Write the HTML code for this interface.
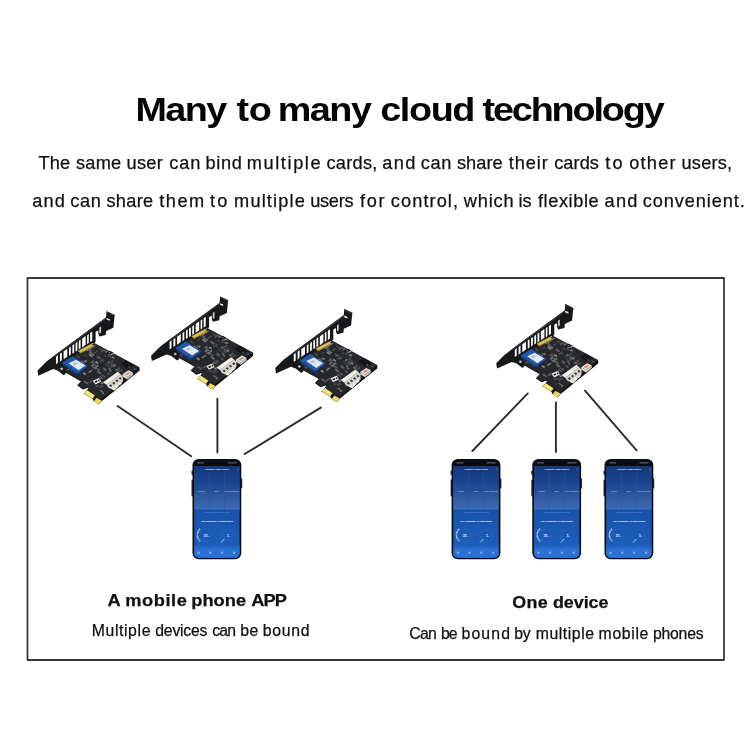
<!DOCTYPE html>
<html lang="en">
<head>
<meta charset="utf-8">
<title>Many to many cloud technology</title>
<style>
html,body{margin:0;padding:0;background:#fff;}
body{width:750px;height:750px;position:relative;overflow:hidden;font-family:"Liberation Sans",sans-serif;color:#111;}
svg{position:absolute;left:0;top:0;}
svg text{font-family:"Liberation Sans",sans-serif;}
.t{position:absolute;white-space:nowrap;line-height:1em;transform-origin:0 0;color:#101010;will-change:transform;-webkit-text-stroke:0.25px #101010;}
#t0{color:#040404;-webkit-text-stroke:0;}
#t0{left:138.30px;top:92.42px;font-size:34px;font-weight:700;letter-spacing:-1.9px;word-spacing:3.08px;transform:scaleX(1.11);}
#t1{left:39.10px;top:153.69px;font-size:18.2px;font-weight:400;letter-spacing:0.55px;word-spacing:0px;transform:scaleX(1);}
#t2{left:32.70px;top:191.89px;font-size:18.2px;font-weight:400;letter-spacing:0.55px;word-spacing:0px;transform:scaleX(1);}
#t3{left:107.80px;top:591.71px;font-size:17px;font-weight:700;letter-spacing:0px;word-spacing:0.3px;transform:scaleX(1.073);}
#t4{left:93.00px;top:622.93px;font-size:15.8px;font-weight:400;letter-spacing:0.3px;word-spacing:0px;transform:scaleX(1);}
#t5{left:513.20px;top:594.01px;font-size:17px;font-weight:700;letter-spacing:0px;word-spacing:0.3px;transform:scaleX(1.053);}
#t6{left:410.20px;top:625.73px;font-size:15.8px;font-weight:400;letter-spacing:0.3px;word-spacing:0px;transform:scaleX(1);}
</style>
</head>
<body>
<svg width="750" height="750" viewBox="0 0 750 750">
<defs>
<linearGradient id="scr" x1="0" y1="0" x2="0" y2="1">
<stop offset="0" stop-color="#14397d"/>
<stop offset="0.5" stop-color="#1853ad"/>
<stop offset="0.85" stop-color="#1c5dba"/>
<stop offset="1" stop-color="#2468c8"/>
</linearGradient>
<linearGradient id="pan" x1="0" y1="0" x2="0" y2="1">
<stop offset="0" stop-color="#14397d"/>
<stop offset="0.4" stop-color="#1b4690"/>
<stop offset="1" stop-color="#3f6cb3"/>
</linearGradient>
<linearGradient id="nav" x1="0" y1="0" x2="0" y2="1">
<stop offset="0" stop-color="#1c5dba"/>
<stop offset="0.35" stop-color="#2a70d2"/>
<stop offset="1" stop-color="#2b72d4"/>
</linearGradient>
<clipPath id="pcbclip"><polygon points="206,390 402,274 676,420 446,614 416,600 366,556 372,540 330,548 304,528 322,506 308,496 216,440"/></clipPath>
</defs>
<rect x="27.5" y="278" width="696.5" height="382" fill="none" stroke="#3a3a3a" stroke-width="1.8" stroke-linejoin="round"/>
<g stroke="#2c2c2c" stroke-width="1.9" stroke-linecap="round">
<line x1="117.6" y1="406" x2="191.2" y2="456.2"/>
<line x1="217.4" y1="398.6" x2="217.4" y2="452.4"/>
<line x1="320.8" y1="407.6" x2="244.6" y2="454"/>
<line x1="527.8" y1="393.4" x2="472.4" y2="451"/>
<line x1="555.9" y1="402.4" x2="555.9" y2="452"/>
<line x1="585" y1="390.6" x2="636.6" y2="450.4"/>
</g>
<g transform="translate(30 300) scale(0.16)">
<polygon points="200,392 402,272 686,424 684,442 448,633 432,653 400,633 390,617 335,584 357,564 368,547 330,559 295,533 320,508 306,501 212,448" fill="#0e0e0f"/>
<polygon points="200,388 402,268 684,420 446,622 416,606 360,560 372,540 330,552 299,530 322,506 308,496 212,442" fill="#27282b"/>
<polygon points="466,402 508,380 546,404 504,428" fill="#47484b"/>
<polygon points="474,402 508,385 538,404 504,422" fill="#303134"/>
<polygon points="470,332 500,317 524,332 494,348" fill="#0c0c0d"/>
<polygon points="566,398 604,378 652,408 614,430" fill="#151517"/>
<polygon points="500,340 528,326 534,332 506,346" fill="#b9bbbd" opacity="0.8"/>
<g clip-path="url(#pcbclip)">
<rect x="369" y="310" width="23" height="6" fill="#707275" opacity="0.75" transform="rotate(32 369 310)"/>
<rect x="255" y="427" width="11" height="9" fill="#6d6f72" opacity="0.64" transform="rotate(32 255 427)"/>
<rect x="413" y="533" width="12" height="7" fill="#707275" opacity="0.83" transform="rotate(32 413 533)"/>
<rect x="355" y="308" width="12" height="8" fill="#85878a" opacity="0.83" transform="rotate(32 355 308)"/>
<rect x="505" y="383" width="21" height="6" fill="#6d6f72" opacity="0.68" transform="rotate(-36 505 383)"/>
<rect x="523" y="401" width="16" height="10" fill="#9a9c9f" opacity="0.72" transform="rotate(32 523 401)"/>
<rect x="335" y="450" width="21" height="11" fill="#9a9c9f" opacity="0.84" transform="rotate(32 335 450)"/>
<rect x="261" y="429" width="13" height="8" fill="#9a9c9f" opacity="0.62" transform="rotate(32 261 429)"/>
<rect x="517" y="512" width="21" height="11" fill="#5a5c5f" opacity="0.88" transform="rotate(32 517 512)"/>
<rect x="486" y="451" width="19" height="11" fill="#5a5c5f" opacity="0.88" transform="rotate(32 486 451)"/>
<rect x="363" y="451" width="24" height="9" fill="#9a9c9f" opacity="0.74" transform="rotate(-36 363 451)"/>
<rect x="493" y="423" width="14" height="8" fill="#85878a" opacity="0.76" transform="rotate(32 493 423)"/>
<rect x="423" y="441" width="28" height="11" fill="#707275" opacity="0.88" transform="rotate(32 423 441)"/>
<rect x="394" y="336" width="12" height="7" fill="#85878a" opacity="0.79" transform="rotate(32 394 336)"/>
<rect x="483" y="347" width="10" height="9" fill="#5a5c5f" opacity="0.83" transform="rotate(-36 483 347)"/>
<rect x="452" y="464" width="24" height="6" fill="#707275" opacity="0.76" transform="rotate(32 452 464)"/>
<rect x="399" y="419" width="18" height="7" fill="#85878a" opacity="0.66" transform="rotate(32 399 419)"/>
<rect x="274" y="380" width="11" height="11" fill="#707275" opacity="0.66" transform="rotate(32 274 380)"/>
<rect x="338" y="375" width="17" height="7" fill="#9a9c9f" opacity="0.79" transform="rotate(32 338 375)"/>
<rect x="364" y="308" width="25" height="10" fill="#9a9c9f" opacity="0.66" transform="rotate(-36 364 308)"/>
<rect x="457" y="308" width="21" height="6" fill="#707275" opacity="0.99" transform="rotate(32 457 308)"/>
<rect x="342" y="381" width="13" height="11" fill="#707275" opacity="0.91" transform="rotate(-36 342 381)"/>
<rect x="372" y="334" width="26" height="12" fill="#85878a" opacity="0.93" transform="rotate(32 372 334)"/>
<rect x="453" y="377" width="11" height="6" fill="#5a5c5f" opacity="0.70" transform="rotate(32 453 377)"/>
<rect x="387" y="333" width="15" height="7" fill="#85878a" opacity="0.85" transform="rotate(32 387 333)"/>
<rect x="436" y="475" width="26" height="7" fill="#6d6f72" opacity="0.91" transform="rotate(32 436 475)"/>
<rect x="553" y="418" width="14" height="11" fill="#5a5c5f" opacity="0.92" transform="rotate(32 553 418)"/>
<rect x="381" y="441" width="13" height="6" fill="#6d6f72" opacity="0.90" transform="rotate(-36 381 441)"/>
<rect x="445" y="512" width="17" height="9" fill="#85878a" opacity="0.96" transform="rotate(32 445 512)"/>
<rect x="382" y="411" width="22" height="11" fill="#9a9c9f" opacity="0.65" transform="rotate(-36 382 411)"/>
<rect x="295" y="428" width="27" height="11" fill="#707275" opacity="0.91" transform="rotate(32 295 428)"/>
<rect x="458" y="419" width="26" height="11" fill="#6d6f72" opacity="0.68" transform="rotate(32 458 419)"/>
<rect x="491" y="326" width="16" height="9" fill="#9a9c9f" opacity="0.98" transform="rotate(-36 491 326)"/>
<rect x="282" y="406" width="11" height="7" fill="#6d6f72" opacity="0.87" transform="rotate(32 282 406)"/>
<rect x="401" y="421" width="30" height="11" fill="#85878a" opacity="0.77" transform="rotate(-36 401 421)"/>
<rect x="452" y="372" width="14" height="8" fill="#5a5c5f" opacity="0.74" transform="rotate(32 452 372)"/>
<rect x="427" y="492" width="18" height="9" fill="#5a5c5f" opacity="0.98" transform="rotate(-36 427 492)"/>
<rect x="461" y="430" width="20" height="8" fill="#5a5c5f" opacity="0.92" transform="rotate(32 461 430)"/>
<rect x="492" y="333" width="15" height="7" fill="#6d6f72" opacity="1.00" transform="rotate(32 492 333)"/>
<rect x="500" y="435" width="14" height="9" fill="#85878a" opacity="0.74" transform="rotate(32 500 435)"/>
<rect x="467" y="323" width="19" height="12" fill="#6d6f72" opacity="0.93" transform="rotate(-36 467 323)"/>
<rect x="416" y="423" width="27" height="8" fill="#707275" opacity="0.88" transform="rotate(32 416 423)"/>
<rect x="503" y="394" width="17" height="6" fill="#85878a" opacity="0.63" transform="rotate(32 503 394)"/>
<rect x="518" y="353" width="15" height="8" fill="#9a9c9f" opacity="0.66" transform="rotate(32 518 353)"/>
<rect x="422" y="347" width="29" height="12" fill="#707275" opacity="0.70" transform="rotate(32 422 347)"/>
<rect x="394" y="417" width="20" height="7" fill="#707275" opacity="0.64" transform="rotate(32 394 417)"/>
<rect x="482" y="390" width="16" height="10" fill="#6d6f72" opacity="0.98" transform="rotate(-36 482 390)"/>
<rect x="487" y="512" width="24" height="9" fill="#5a5c5f" opacity="0.85" transform="rotate(-36 487 512)"/>
<rect x="537" y="429" width="19" height="10" fill="#707275" opacity="0.96" transform="rotate(32 537 429)"/>
<rect x="554" y="448" width="26" height="6" fill="#707275" opacity="0.87" transform="rotate(-36 554 448)"/>
<rect x="385" y="295" width="27" height="9" fill="#6d6f72" opacity="0.81" transform="rotate(-36 385 295)"/>
<rect x="335" y="347" width="19" height="6" fill="#707275" opacity="0.64" transform="rotate(-36 335 347)"/>
<rect x="456" y="506" width="19" height="11" fill="#5a5c5f" opacity="0.89" transform="rotate(32 456 506)"/>
<rect x="650" y="423" width="18" height="9" fill="#5a5c5f" opacity="0.85" transform="rotate(32 650 423)"/>
<rect x="293" y="344" width="25" height="8" fill="#707275" opacity="0.60" transform="rotate(32 293 344)"/>
<rect x="519" y="488" width="24" height="8" fill="#707275" opacity="0.79" transform="rotate(32 519 488)"/>
<rect x="431" y="299" width="28" height="7" fill="#6d6f72" opacity="0.61" transform="rotate(32 431 299)"/>
<rect x="427" y="531" width="29" height="9" fill="#5a5c5f" opacity="0.68" transform="rotate(32 427 531)"/>
<rect x="455" y="574" width="13" height="11" fill="#707275" opacity="0.95" transform="rotate(32 455 574)"/>
<rect x="616" y="420" width="10" height="6" fill="#9a9c9f" opacity="0.78" transform="rotate(-36 616 420)"/>
<rect x="360" y="306" width="17" height="8" fill="#5a5c5f" opacity="0.73" transform="rotate(32 360 306)"/>
<rect x="375" y="391" width="29" height="7" fill="#6d6f72" opacity="0.72" transform="rotate(-36 375 391)"/>
<rect x="390" y="390" width="30" height="10" fill="#5a5c5f" opacity="0.90" transform="rotate(32 390 390)"/>
<rect x="366" y="515" width="26" height="9" fill="#6d6f72" opacity="0.76" transform="rotate(-36 366 515)"/>
<rect x="607" y="443" width="14" height="6" fill="#9a9c9f" opacity="0.85" transform="rotate(32 607 443)"/>
<rect x="439" y="561" width="21" height="7" fill="#9a9c9f" opacity="0.71" transform="rotate(32 439 561)"/>
<rect x="340" y="504" width="23" height="8" fill="#85878a" opacity="0.79" transform="rotate(32 340 504)"/>
<rect x="445" y="528" width="21" height="9" fill="#5a5c5f" opacity="0.77" transform="rotate(32 445 528)"/>
<rect x="466" y="341" width="13" height="9" fill="#5a5c5f" opacity="0.75" transform="rotate(32 466 341)"/>
<rect x="395" y="506" width="14" height="8" fill="#6d6f72" opacity="0.71" transform="rotate(32 395 506)"/>
<rect x="446" y="468" width="27" height="7" fill="#5a5c5f" opacity="0.75" transform="rotate(32 446 468)"/>
<rect x="508" y="403" width="16" height="11" fill="#6d6f72" opacity="0.61" transform="rotate(32 508 403)"/>
<rect x="434" y="454" width="10" height="8" fill="#707275" opacity="0.99" transform="rotate(32 434 454)"/>
<rect x="296" y="432" width="24" height="12" fill="#9a9c9f" opacity="0.82" transform="rotate(32 296 432)"/>
<rect x="508" y="360" width="13" height="8" fill="#9a9c9f" opacity="0.91" transform="rotate(-36 508 360)"/>
<rect x="273" y="359" width="29" height="7" fill="#5a5c5f" opacity="0.92" transform="rotate(32 273 359)"/>
<rect x="230" y="437" width="30" height="8" fill="#5a5c5f" opacity="0.94" transform="rotate(-36 230 437)"/>
<rect x="334" y="434" width="21" height="6" fill="#9a9c9f" opacity="0.86" transform="rotate(-36 334 434)"/>
<rect x="412" y="382" width="20" height="10" fill="#9a9c9f" opacity="0.87" transform="rotate(32 412 382)"/>
<rect x="548" y="427" width="14" height="12" fill="#5a5c5f" opacity="0.69" transform="rotate(32 548 427)"/>
<rect x="443" y="322" width="14" height="9" fill="#6d6f72" opacity="0.66" transform="rotate(-36 443 322)"/>
<rect x="399" y="330" width="29" height="7" fill="#6d6f72" opacity="0.62" transform="rotate(-36 399 330)"/>
<rect x="372" y="321" width="29" height="10" fill="#6d6f72" opacity="0.87" transform="rotate(32 372 321)"/>
<rect x="393" y="383" width="17" height="7" fill="#6d6f72" opacity="0.71" transform="rotate(32 393 383)"/>
<rect x="319" y="378" width="26" height="11" fill="#9a9c9f" opacity="0.62" transform="rotate(32 319 378)"/>
<rect x="434" y="383" width="28" height="7" fill="#5a5c5f" opacity="0.96" transform="rotate(-36 434 383)"/>
<rect x="243" y="396" width="26" height="11" fill="#6d6f72" opacity="0.61" transform="rotate(32 243 396)"/>
<rect x="341" y="507" width="28" height="8" fill="#5a5c5f" opacity="0.98" transform="rotate(32 341 507)"/>
<rect x="495" y="347" width="24" height="8" fill="#5a5c5f" opacity="0.60" transform="rotate(32 495 347)"/>
<rect x="338" y="402" width="20" height="12" fill="#85878a" opacity="0.92" transform="rotate(32 338 402)"/>
</g>
<polygon points="393,504 430,488 445,510 409,528" fill="#ecece9"/>
<polygon points="404,508 418,502 423,512 409,518" fill="#2a2a2c"/>
<polygon points="424,500 432,497 437,506 429,510" fill="#2a2a2c"/>
<polygon points="457,514 548,449 566,464 478,530" fill="#f1efea"/>
<polygon points="478,530 566,464 580,478 580,510 530,566 490,548" fill="#d9d6cf"/>
<polygon points="494,534 504,526 514,536 504,544" fill="#3c3c40"/>
<polygon points="514,519 524,511 534,521 524,529" fill="#3c3c40"/>
<polygon points="534,504 544,496 554,506 544,514" fill="#3c3c40"/>
<polygon points="554,489 564,481 574,491 564,499" fill="#3c3c40"/>
<polygon points="512,556 524,546 534,554 522,564" fill="#f4f2ee"/>
<polygon points="532,540 544,530 554,538 542,548" fill="#f4f2ee"/>
<polygon points="552,524 564,514 574,522 562,532" fill="#f4f2ee"/>
<polygon points="578,464 616,439 644,454 608,482" fill="#f1e6df"/>
<polygon points="592,464 616,448 630,456 606,472" fill="#cf987f"/>
<polygon points="608,482 644,454 645,468 609,497" fill="#c9c3bb"/>
<polygon points="578,464 608,482 609,497 579,478" fill="#e2dcd4"/>
<polygon points="335,583 358,564 406,597 390,617" fill="#ead959"/>
<polygon points="400,633 416,611 449,629 432,653" fill="#ead959"/>
<polygon points="345,580 360,568 400,596 390,608" fill="#f3e680"/>
<polygon points="47,440 100,387 115,375 155,345 475,110 479,70 529,94 521,173 476,194 473,219 434,228 427,213 427,190 410,198 410,262 400,271 392,270 205,398 224,446 222,462 210,470 175,442 145,432 52,473" fill="#17181a"/>
<polygon points="155,345 475,110 477,119 160,354" fill="#303235"/>
<polygon points="479,70 529,94 528,103 479,80" fill="#303235"/>
<polygon points="479,112 498,120 498,130 479,122" fill="#fff"/>
<polygon points="163,354.125 175,345.312 175,392.312 163,401.125" fill="#fff"/>
<polygon points="187,337.495 199,328.682 199,376.898 187,385.711" fill="#fff"/>
<polygon points="210,321.557 233,304.666 233,354.049 210,370.94" fill="#fff"/>
<polygon points="244,297.998 255,289.919 255,341.025 244,349.104" fill="#fff"/>
<polygon points="265,283.446 276,275.368 276,327.539 265,335.617" fill="#fff"/>
<polygon points="285,269.588 296,261.51 296,314.694 285,322.772" fill="#fff"/>
<polygon points="305,255.729 316,247.651 316,301.849 305,309.928" fill="#fff"/>
<polygon points="326,241.178 348,225.021 348,280.284 326,296.441" fill="#fff"/>
<polygon points="357,219.697 367,212.353 367,269.187 357,276.531" fill="#fff"/>
<polygon points="376,206.532 389,196.985 389,254.782 376,264.329" fill="#fff"/>
<polygon points="433,172 444,166 444,204 433,210" fill="#c9cacc"/>
<ellipse cx="198" cy="430" rx="9" ry="8" fill="#a4a6aa"/>
<ellipse cx="198" cy="430" rx="4" ry="3.5" fill="#e1e2e4"/>
<polygon points="298,318 384,272 402,288 316,335" fill="#a98e35"/>
<polygon points="306,318 382,278 392,286 316,327" fill="#d9c25a"/>
<polygon points="200,392 266,351 362,412 298,459" fill="#2458ab"/>
<polygon points="298,459 362,412 362,423 299,470" fill="#102e63"/>
<polygon points="200,392 298,459 299,470 201,402" fill="#173f86"/>
<polygon points="241,396 288,374 347,410 304,439" fill="#e4e9ef"/>
<polygon points="262,398 284,388 300,398 278,409" fill="#b7c3d6"/>
</g>
<g transform="translate(143.5 285.3) scale(0.16)">
<polygon points="200,392 402,272 686,424 684,442 448,633 432,653 400,633 390,617 335,584 357,564 368,547 330,559 295,533 320,508 306,501 212,448" fill="#0e0e0f"/>
<polygon points="200,388 402,268 684,420 446,622 416,606 360,560 372,540 330,552 299,530 322,506 308,496 212,442" fill="#27282b"/>
<polygon points="466,402 508,380 546,404 504,428" fill="#47484b"/>
<polygon points="474,402 508,385 538,404 504,422" fill="#303134"/>
<polygon points="470,332 500,317 524,332 494,348" fill="#0c0c0d"/>
<polygon points="566,398 604,378 652,408 614,430" fill="#151517"/>
<polygon points="500,340 528,326 534,332 506,346" fill="#b9bbbd" opacity="0.8"/>
<g clip-path="url(#pcbclip)">
<rect x="369" y="310" width="23" height="6" fill="#707275" opacity="0.75" transform="rotate(32 369 310)"/>
<rect x="255" y="427" width="11" height="9" fill="#6d6f72" opacity="0.64" transform="rotate(32 255 427)"/>
<rect x="413" y="533" width="12" height="7" fill="#707275" opacity="0.83" transform="rotate(32 413 533)"/>
<rect x="355" y="308" width="12" height="8" fill="#85878a" opacity="0.83" transform="rotate(32 355 308)"/>
<rect x="505" y="383" width="21" height="6" fill="#6d6f72" opacity="0.68" transform="rotate(-36 505 383)"/>
<rect x="523" y="401" width="16" height="10" fill="#9a9c9f" opacity="0.72" transform="rotate(32 523 401)"/>
<rect x="335" y="450" width="21" height="11" fill="#9a9c9f" opacity="0.84" transform="rotate(32 335 450)"/>
<rect x="261" y="429" width="13" height="8" fill="#9a9c9f" opacity="0.62" transform="rotate(32 261 429)"/>
<rect x="517" y="512" width="21" height="11" fill="#5a5c5f" opacity="0.88" transform="rotate(32 517 512)"/>
<rect x="486" y="451" width="19" height="11" fill="#5a5c5f" opacity="0.88" transform="rotate(32 486 451)"/>
<rect x="363" y="451" width="24" height="9" fill="#9a9c9f" opacity="0.74" transform="rotate(-36 363 451)"/>
<rect x="493" y="423" width="14" height="8" fill="#85878a" opacity="0.76" transform="rotate(32 493 423)"/>
<rect x="423" y="441" width="28" height="11" fill="#707275" opacity="0.88" transform="rotate(32 423 441)"/>
<rect x="394" y="336" width="12" height="7" fill="#85878a" opacity="0.79" transform="rotate(32 394 336)"/>
<rect x="483" y="347" width="10" height="9" fill="#5a5c5f" opacity="0.83" transform="rotate(-36 483 347)"/>
<rect x="452" y="464" width="24" height="6" fill="#707275" opacity="0.76" transform="rotate(32 452 464)"/>
<rect x="399" y="419" width="18" height="7" fill="#85878a" opacity="0.66" transform="rotate(32 399 419)"/>
<rect x="274" y="380" width="11" height="11" fill="#707275" opacity="0.66" transform="rotate(32 274 380)"/>
<rect x="338" y="375" width="17" height="7" fill="#9a9c9f" opacity="0.79" transform="rotate(32 338 375)"/>
<rect x="364" y="308" width="25" height="10" fill="#9a9c9f" opacity="0.66" transform="rotate(-36 364 308)"/>
<rect x="457" y="308" width="21" height="6" fill="#707275" opacity="0.99" transform="rotate(32 457 308)"/>
<rect x="342" y="381" width="13" height="11" fill="#707275" opacity="0.91" transform="rotate(-36 342 381)"/>
<rect x="372" y="334" width="26" height="12" fill="#85878a" opacity="0.93" transform="rotate(32 372 334)"/>
<rect x="453" y="377" width="11" height="6" fill="#5a5c5f" opacity="0.70" transform="rotate(32 453 377)"/>
<rect x="387" y="333" width="15" height="7" fill="#85878a" opacity="0.85" transform="rotate(32 387 333)"/>
<rect x="436" y="475" width="26" height="7" fill="#6d6f72" opacity="0.91" transform="rotate(32 436 475)"/>
<rect x="553" y="418" width="14" height="11" fill="#5a5c5f" opacity="0.92" transform="rotate(32 553 418)"/>
<rect x="381" y="441" width="13" height="6" fill="#6d6f72" opacity="0.90" transform="rotate(-36 381 441)"/>
<rect x="445" y="512" width="17" height="9" fill="#85878a" opacity="0.96" transform="rotate(32 445 512)"/>
<rect x="382" y="411" width="22" height="11" fill="#9a9c9f" opacity="0.65" transform="rotate(-36 382 411)"/>
<rect x="295" y="428" width="27" height="11" fill="#707275" opacity="0.91" transform="rotate(32 295 428)"/>
<rect x="458" y="419" width="26" height="11" fill="#6d6f72" opacity="0.68" transform="rotate(32 458 419)"/>
<rect x="491" y="326" width="16" height="9" fill="#9a9c9f" opacity="0.98" transform="rotate(-36 491 326)"/>
<rect x="282" y="406" width="11" height="7" fill="#6d6f72" opacity="0.87" transform="rotate(32 282 406)"/>
<rect x="401" y="421" width="30" height="11" fill="#85878a" opacity="0.77" transform="rotate(-36 401 421)"/>
<rect x="452" y="372" width="14" height="8" fill="#5a5c5f" opacity="0.74" transform="rotate(32 452 372)"/>
<rect x="427" y="492" width="18" height="9" fill="#5a5c5f" opacity="0.98" transform="rotate(-36 427 492)"/>
<rect x="461" y="430" width="20" height="8" fill="#5a5c5f" opacity="0.92" transform="rotate(32 461 430)"/>
<rect x="492" y="333" width="15" height="7" fill="#6d6f72" opacity="1.00" transform="rotate(32 492 333)"/>
<rect x="500" y="435" width="14" height="9" fill="#85878a" opacity="0.74" transform="rotate(32 500 435)"/>
<rect x="467" y="323" width="19" height="12" fill="#6d6f72" opacity="0.93" transform="rotate(-36 467 323)"/>
<rect x="416" y="423" width="27" height="8" fill="#707275" opacity="0.88" transform="rotate(32 416 423)"/>
<rect x="503" y="394" width="17" height="6" fill="#85878a" opacity="0.63" transform="rotate(32 503 394)"/>
<rect x="518" y="353" width="15" height="8" fill="#9a9c9f" opacity="0.66" transform="rotate(32 518 353)"/>
<rect x="422" y="347" width="29" height="12" fill="#707275" opacity="0.70" transform="rotate(32 422 347)"/>
<rect x="394" y="417" width="20" height="7" fill="#707275" opacity="0.64" transform="rotate(32 394 417)"/>
<rect x="482" y="390" width="16" height="10" fill="#6d6f72" opacity="0.98" transform="rotate(-36 482 390)"/>
<rect x="487" y="512" width="24" height="9" fill="#5a5c5f" opacity="0.85" transform="rotate(-36 487 512)"/>
<rect x="537" y="429" width="19" height="10" fill="#707275" opacity="0.96" transform="rotate(32 537 429)"/>
<rect x="554" y="448" width="26" height="6" fill="#707275" opacity="0.87" transform="rotate(-36 554 448)"/>
<rect x="385" y="295" width="27" height="9" fill="#6d6f72" opacity="0.81" transform="rotate(-36 385 295)"/>
<rect x="335" y="347" width="19" height="6" fill="#707275" opacity="0.64" transform="rotate(-36 335 347)"/>
<rect x="456" y="506" width="19" height="11" fill="#5a5c5f" opacity="0.89" transform="rotate(32 456 506)"/>
<rect x="650" y="423" width="18" height="9" fill="#5a5c5f" opacity="0.85" transform="rotate(32 650 423)"/>
<rect x="293" y="344" width="25" height="8" fill="#707275" opacity="0.60" transform="rotate(32 293 344)"/>
<rect x="519" y="488" width="24" height="8" fill="#707275" opacity="0.79" transform="rotate(32 519 488)"/>
<rect x="431" y="299" width="28" height="7" fill="#6d6f72" opacity="0.61" transform="rotate(32 431 299)"/>
<rect x="427" y="531" width="29" height="9" fill="#5a5c5f" opacity="0.68" transform="rotate(32 427 531)"/>
<rect x="455" y="574" width="13" height="11" fill="#707275" opacity="0.95" transform="rotate(32 455 574)"/>
<rect x="616" y="420" width="10" height="6" fill="#9a9c9f" opacity="0.78" transform="rotate(-36 616 420)"/>
<rect x="360" y="306" width="17" height="8" fill="#5a5c5f" opacity="0.73" transform="rotate(32 360 306)"/>
<rect x="375" y="391" width="29" height="7" fill="#6d6f72" opacity="0.72" transform="rotate(-36 375 391)"/>
<rect x="390" y="390" width="30" height="10" fill="#5a5c5f" opacity="0.90" transform="rotate(32 390 390)"/>
<rect x="366" y="515" width="26" height="9" fill="#6d6f72" opacity="0.76" transform="rotate(-36 366 515)"/>
<rect x="607" y="443" width="14" height="6" fill="#9a9c9f" opacity="0.85" transform="rotate(32 607 443)"/>
<rect x="439" y="561" width="21" height="7" fill="#9a9c9f" opacity="0.71" transform="rotate(32 439 561)"/>
<rect x="340" y="504" width="23" height="8" fill="#85878a" opacity="0.79" transform="rotate(32 340 504)"/>
<rect x="445" y="528" width="21" height="9" fill="#5a5c5f" opacity="0.77" transform="rotate(32 445 528)"/>
<rect x="466" y="341" width="13" height="9" fill="#5a5c5f" opacity="0.75" transform="rotate(32 466 341)"/>
<rect x="395" y="506" width="14" height="8" fill="#6d6f72" opacity="0.71" transform="rotate(32 395 506)"/>
<rect x="446" y="468" width="27" height="7" fill="#5a5c5f" opacity="0.75" transform="rotate(32 446 468)"/>
<rect x="508" y="403" width="16" height="11" fill="#6d6f72" opacity="0.61" transform="rotate(32 508 403)"/>
<rect x="434" y="454" width="10" height="8" fill="#707275" opacity="0.99" transform="rotate(32 434 454)"/>
<rect x="296" y="432" width="24" height="12" fill="#9a9c9f" opacity="0.82" transform="rotate(32 296 432)"/>
<rect x="508" y="360" width="13" height="8" fill="#9a9c9f" opacity="0.91" transform="rotate(-36 508 360)"/>
<rect x="273" y="359" width="29" height="7" fill="#5a5c5f" opacity="0.92" transform="rotate(32 273 359)"/>
<rect x="230" y="437" width="30" height="8" fill="#5a5c5f" opacity="0.94" transform="rotate(-36 230 437)"/>
<rect x="334" y="434" width="21" height="6" fill="#9a9c9f" opacity="0.86" transform="rotate(-36 334 434)"/>
<rect x="412" y="382" width="20" height="10" fill="#9a9c9f" opacity="0.87" transform="rotate(32 412 382)"/>
<rect x="548" y="427" width="14" height="12" fill="#5a5c5f" opacity="0.69" transform="rotate(32 548 427)"/>
<rect x="443" y="322" width="14" height="9" fill="#6d6f72" opacity="0.66" transform="rotate(-36 443 322)"/>
<rect x="399" y="330" width="29" height="7" fill="#6d6f72" opacity="0.62" transform="rotate(-36 399 330)"/>
<rect x="372" y="321" width="29" height="10" fill="#6d6f72" opacity="0.87" transform="rotate(32 372 321)"/>
<rect x="393" y="383" width="17" height="7" fill="#6d6f72" opacity="0.71" transform="rotate(32 393 383)"/>
<rect x="319" y="378" width="26" height="11" fill="#9a9c9f" opacity="0.62" transform="rotate(32 319 378)"/>
<rect x="434" y="383" width="28" height="7" fill="#5a5c5f" opacity="0.96" transform="rotate(-36 434 383)"/>
<rect x="243" y="396" width="26" height="11" fill="#6d6f72" opacity="0.61" transform="rotate(32 243 396)"/>
<rect x="341" y="507" width="28" height="8" fill="#5a5c5f" opacity="0.98" transform="rotate(32 341 507)"/>
<rect x="495" y="347" width="24" height="8" fill="#5a5c5f" opacity="0.60" transform="rotate(32 495 347)"/>
<rect x="338" y="402" width="20" height="12" fill="#85878a" opacity="0.92" transform="rotate(32 338 402)"/>
</g>
<polygon points="393,504 430,488 445,510 409,528" fill="#ecece9"/>
<polygon points="404,508 418,502 423,512 409,518" fill="#2a2a2c"/>
<polygon points="424,500 432,497 437,506 429,510" fill="#2a2a2c"/>
<polygon points="457,514 548,449 566,464 478,530" fill="#f1efea"/>
<polygon points="478,530 566,464 580,478 580,510 530,566 490,548" fill="#d9d6cf"/>
<polygon points="494,534 504,526 514,536 504,544" fill="#3c3c40"/>
<polygon points="514,519 524,511 534,521 524,529" fill="#3c3c40"/>
<polygon points="534,504 544,496 554,506 544,514" fill="#3c3c40"/>
<polygon points="554,489 564,481 574,491 564,499" fill="#3c3c40"/>
<polygon points="512,556 524,546 534,554 522,564" fill="#f4f2ee"/>
<polygon points="532,540 544,530 554,538 542,548" fill="#f4f2ee"/>
<polygon points="552,524 564,514 574,522 562,532" fill="#f4f2ee"/>
<polygon points="578,464 616,439 644,454 608,482" fill="#f1e6df"/>
<polygon points="592,464 616,448 630,456 606,472" fill="#cf987f"/>
<polygon points="608,482 644,454 645,468 609,497" fill="#c9c3bb"/>
<polygon points="578,464 608,482 609,497 579,478" fill="#e2dcd4"/>
<polygon points="335,583 358,564 406,597 390,617" fill="#ead959"/>
<polygon points="400,633 416,611 449,629 432,653" fill="#ead959"/>
<polygon points="345,580 360,568 400,596 390,608" fill="#f3e680"/>
<polygon points="47,440 100,387 115,375 155,345 475,110 479,70 529,94 521,173 476,194 473,219 434,228 427,213 427,190 410,198 410,262 400,271 392,270 205,398 224,446 222,462 210,470 175,442 145,432 52,473" fill="#17181a"/>
<polygon points="155,345 475,110 477,119 160,354" fill="#303235"/>
<polygon points="479,70 529,94 528,103 479,80" fill="#303235"/>
<polygon points="479,112 498,120 498,130 479,122" fill="#fff"/>
<polygon points="163,354.125 175,345.312 175,392.312 163,401.125" fill="#fff"/>
<polygon points="187,337.495 199,328.682 199,376.898 187,385.711" fill="#fff"/>
<polygon points="210,321.557 233,304.666 233,354.049 210,370.94" fill="#fff"/>
<polygon points="244,297.998 255,289.919 255,341.025 244,349.104" fill="#fff"/>
<polygon points="265,283.446 276,275.368 276,327.539 265,335.617" fill="#fff"/>
<polygon points="285,269.588 296,261.51 296,314.694 285,322.772" fill="#fff"/>
<polygon points="305,255.729 316,247.651 316,301.849 305,309.928" fill="#fff"/>
<polygon points="326,241.178 348,225.021 348,280.284 326,296.441" fill="#fff"/>
<polygon points="357,219.697 367,212.353 367,269.187 357,276.531" fill="#fff"/>
<polygon points="376,206.532 389,196.985 389,254.782 376,264.329" fill="#fff"/>
<polygon points="433,172 444,166 444,204 433,210" fill="#c9cacc"/>
<ellipse cx="198" cy="430" rx="9" ry="8" fill="#a4a6aa"/>
<ellipse cx="198" cy="430" rx="4" ry="3.5" fill="#e1e2e4"/>
<polygon points="298,318 384,272 402,288 316,335" fill="#a98e35"/>
<polygon points="306,318 382,278 392,286 316,327" fill="#d9c25a"/>
<polygon points="200,392 266,351 362,412 298,459" fill="#2458ab"/>
<polygon points="298,459 362,412 362,423 299,470" fill="#102e63"/>
<polygon points="200,392 298,459 299,470 201,402" fill="#173f86"/>
<polygon points="241,396 288,374 347,410 304,439" fill="#e4e9ef"/>
<polygon points="262,398 284,388 300,398 278,409" fill="#b7c3d6"/>
</g>
<g transform="translate(267.7 297.7) scale(0.16)">
<polygon points="200,392 402,272 686,424 684,442 448,633 432,653 400,633 390,617 335,584 357,564 368,547 330,559 295,533 320,508 306,501 212,448" fill="#0e0e0f"/>
<polygon points="200,388 402,268 684,420 446,622 416,606 360,560 372,540 330,552 299,530 322,506 308,496 212,442" fill="#27282b"/>
<polygon points="466,402 508,380 546,404 504,428" fill="#47484b"/>
<polygon points="474,402 508,385 538,404 504,422" fill="#303134"/>
<polygon points="470,332 500,317 524,332 494,348" fill="#0c0c0d"/>
<polygon points="566,398 604,378 652,408 614,430" fill="#151517"/>
<polygon points="500,340 528,326 534,332 506,346" fill="#b9bbbd" opacity="0.8"/>
<g clip-path="url(#pcbclip)">
<rect x="369" y="310" width="23" height="6" fill="#707275" opacity="0.75" transform="rotate(32 369 310)"/>
<rect x="255" y="427" width="11" height="9" fill="#6d6f72" opacity="0.64" transform="rotate(32 255 427)"/>
<rect x="413" y="533" width="12" height="7" fill="#707275" opacity="0.83" transform="rotate(32 413 533)"/>
<rect x="355" y="308" width="12" height="8" fill="#85878a" opacity="0.83" transform="rotate(32 355 308)"/>
<rect x="505" y="383" width="21" height="6" fill="#6d6f72" opacity="0.68" transform="rotate(-36 505 383)"/>
<rect x="523" y="401" width="16" height="10" fill="#9a9c9f" opacity="0.72" transform="rotate(32 523 401)"/>
<rect x="335" y="450" width="21" height="11" fill="#9a9c9f" opacity="0.84" transform="rotate(32 335 450)"/>
<rect x="261" y="429" width="13" height="8" fill="#9a9c9f" opacity="0.62" transform="rotate(32 261 429)"/>
<rect x="517" y="512" width="21" height="11" fill="#5a5c5f" opacity="0.88" transform="rotate(32 517 512)"/>
<rect x="486" y="451" width="19" height="11" fill="#5a5c5f" opacity="0.88" transform="rotate(32 486 451)"/>
<rect x="363" y="451" width="24" height="9" fill="#9a9c9f" opacity="0.74" transform="rotate(-36 363 451)"/>
<rect x="493" y="423" width="14" height="8" fill="#85878a" opacity="0.76" transform="rotate(32 493 423)"/>
<rect x="423" y="441" width="28" height="11" fill="#707275" opacity="0.88" transform="rotate(32 423 441)"/>
<rect x="394" y="336" width="12" height="7" fill="#85878a" opacity="0.79" transform="rotate(32 394 336)"/>
<rect x="483" y="347" width="10" height="9" fill="#5a5c5f" opacity="0.83" transform="rotate(-36 483 347)"/>
<rect x="452" y="464" width="24" height="6" fill="#707275" opacity="0.76" transform="rotate(32 452 464)"/>
<rect x="399" y="419" width="18" height="7" fill="#85878a" opacity="0.66" transform="rotate(32 399 419)"/>
<rect x="274" y="380" width="11" height="11" fill="#707275" opacity="0.66" transform="rotate(32 274 380)"/>
<rect x="338" y="375" width="17" height="7" fill="#9a9c9f" opacity="0.79" transform="rotate(32 338 375)"/>
<rect x="364" y="308" width="25" height="10" fill="#9a9c9f" opacity="0.66" transform="rotate(-36 364 308)"/>
<rect x="457" y="308" width="21" height="6" fill="#707275" opacity="0.99" transform="rotate(32 457 308)"/>
<rect x="342" y="381" width="13" height="11" fill="#707275" opacity="0.91" transform="rotate(-36 342 381)"/>
<rect x="372" y="334" width="26" height="12" fill="#85878a" opacity="0.93" transform="rotate(32 372 334)"/>
<rect x="453" y="377" width="11" height="6" fill="#5a5c5f" opacity="0.70" transform="rotate(32 453 377)"/>
<rect x="387" y="333" width="15" height="7" fill="#85878a" opacity="0.85" transform="rotate(32 387 333)"/>
<rect x="436" y="475" width="26" height="7" fill="#6d6f72" opacity="0.91" transform="rotate(32 436 475)"/>
<rect x="553" y="418" width="14" height="11" fill="#5a5c5f" opacity="0.92" transform="rotate(32 553 418)"/>
<rect x="381" y="441" width="13" height="6" fill="#6d6f72" opacity="0.90" transform="rotate(-36 381 441)"/>
<rect x="445" y="512" width="17" height="9" fill="#85878a" opacity="0.96" transform="rotate(32 445 512)"/>
<rect x="382" y="411" width="22" height="11" fill="#9a9c9f" opacity="0.65" transform="rotate(-36 382 411)"/>
<rect x="295" y="428" width="27" height="11" fill="#707275" opacity="0.91" transform="rotate(32 295 428)"/>
<rect x="458" y="419" width="26" height="11" fill="#6d6f72" opacity="0.68" transform="rotate(32 458 419)"/>
<rect x="491" y="326" width="16" height="9" fill="#9a9c9f" opacity="0.98" transform="rotate(-36 491 326)"/>
<rect x="282" y="406" width="11" height="7" fill="#6d6f72" opacity="0.87" transform="rotate(32 282 406)"/>
<rect x="401" y="421" width="30" height="11" fill="#85878a" opacity="0.77" transform="rotate(-36 401 421)"/>
<rect x="452" y="372" width="14" height="8" fill="#5a5c5f" opacity="0.74" transform="rotate(32 452 372)"/>
<rect x="427" y="492" width="18" height="9" fill="#5a5c5f" opacity="0.98" transform="rotate(-36 427 492)"/>
<rect x="461" y="430" width="20" height="8" fill="#5a5c5f" opacity="0.92" transform="rotate(32 461 430)"/>
<rect x="492" y="333" width="15" height="7" fill="#6d6f72" opacity="1.00" transform="rotate(32 492 333)"/>
<rect x="500" y="435" width="14" height="9" fill="#85878a" opacity="0.74" transform="rotate(32 500 435)"/>
<rect x="467" y="323" width="19" height="12" fill="#6d6f72" opacity="0.93" transform="rotate(-36 467 323)"/>
<rect x="416" y="423" width="27" height="8" fill="#707275" opacity="0.88" transform="rotate(32 416 423)"/>
<rect x="503" y="394" width="17" height="6" fill="#85878a" opacity="0.63" transform="rotate(32 503 394)"/>
<rect x="518" y="353" width="15" height="8" fill="#9a9c9f" opacity="0.66" transform="rotate(32 518 353)"/>
<rect x="422" y="347" width="29" height="12" fill="#707275" opacity="0.70" transform="rotate(32 422 347)"/>
<rect x="394" y="417" width="20" height="7" fill="#707275" opacity="0.64" transform="rotate(32 394 417)"/>
<rect x="482" y="390" width="16" height="10" fill="#6d6f72" opacity="0.98" transform="rotate(-36 482 390)"/>
<rect x="487" y="512" width="24" height="9" fill="#5a5c5f" opacity="0.85" transform="rotate(-36 487 512)"/>
<rect x="537" y="429" width="19" height="10" fill="#707275" opacity="0.96" transform="rotate(32 537 429)"/>
<rect x="554" y="448" width="26" height="6" fill="#707275" opacity="0.87" transform="rotate(-36 554 448)"/>
<rect x="385" y="295" width="27" height="9" fill="#6d6f72" opacity="0.81" transform="rotate(-36 385 295)"/>
<rect x="335" y="347" width="19" height="6" fill="#707275" opacity="0.64" transform="rotate(-36 335 347)"/>
<rect x="456" y="506" width="19" height="11" fill="#5a5c5f" opacity="0.89" transform="rotate(32 456 506)"/>
<rect x="650" y="423" width="18" height="9" fill="#5a5c5f" opacity="0.85" transform="rotate(32 650 423)"/>
<rect x="293" y="344" width="25" height="8" fill="#707275" opacity="0.60" transform="rotate(32 293 344)"/>
<rect x="519" y="488" width="24" height="8" fill="#707275" opacity="0.79" transform="rotate(32 519 488)"/>
<rect x="431" y="299" width="28" height="7" fill="#6d6f72" opacity="0.61" transform="rotate(32 431 299)"/>
<rect x="427" y="531" width="29" height="9" fill="#5a5c5f" opacity="0.68" transform="rotate(32 427 531)"/>
<rect x="455" y="574" width="13" height="11" fill="#707275" opacity="0.95" transform="rotate(32 455 574)"/>
<rect x="616" y="420" width="10" height="6" fill="#9a9c9f" opacity="0.78" transform="rotate(-36 616 420)"/>
<rect x="360" y="306" width="17" height="8" fill="#5a5c5f" opacity="0.73" transform="rotate(32 360 306)"/>
<rect x="375" y="391" width="29" height="7" fill="#6d6f72" opacity="0.72" transform="rotate(-36 375 391)"/>
<rect x="390" y="390" width="30" height="10" fill="#5a5c5f" opacity="0.90" transform="rotate(32 390 390)"/>
<rect x="366" y="515" width="26" height="9" fill="#6d6f72" opacity="0.76" transform="rotate(-36 366 515)"/>
<rect x="607" y="443" width="14" height="6" fill="#9a9c9f" opacity="0.85" transform="rotate(32 607 443)"/>
<rect x="439" y="561" width="21" height="7" fill="#9a9c9f" opacity="0.71" transform="rotate(32 439 561)"/>
<rect x="340" y="504" width="23" height="8" fill="#85878a" opacity="0.79" transform="rotate(32 340 504)"/>
<rect x="445" y="528" width="21" height="9" fill="#5a5c5f" opacity="0.77" transform="rotate(32 445 528)"/>
<rect x="466" y="341" width="13" height="9" fill="#5a5c5f" opacity="0.75" transform="rotate(32 466 341)"/>
<rect x="395" y="506" width="14" height="8" fill="#6d6f72" opacity="0.71" transform="rotate(32 395 506)"/>
<rect x="446" y="468" width="27" height="7" fill="#5a5c5f" opacity="0.75" transform="rotate(32 446 468)"/>
<rect x="508" y="403" width="16" height="11" fill="#6d6f72" opacity="0.61" transform="rotate(32 508 403)"/>
<rect x="434" y="454" width="10" height="8" fill="#707275" opacity="0.99" transform="rotate(32 434 454)"/>
<rect x="296" y="432" width="24" height="12" fill="#9a9c9f" opacity="0.82" transform="rotate(32 296 432)"/>
<rect x="508" y="360" width="13" height="8" fill="#9a9c9f" opacity="0.91" transform="rotate(-36 508 360)"/>
<rect x="273" y="359" width="29" height="7" fill="#5a5c5f" opacity="0.92" transform="rotate(32 273 359)"/>
<rect x="230" y="437" width="30" height="8" fill="#5a5c5f" opacity="0.94" transform="rotate(-36 230 437)"/>
<rect x="334" y="434" width="21" height="6" fill="#9a9c9f" opacity="0.86" transform="rotate(-36 334 434)"/>
<rect x="412" y="382" width="20" height="10" fill="#9a9c9f" opacity="0.87" transform="rotate(32 412 382)"/>
<rect x="548" y="427" width="14" height="12" fill="#5a5c5f" opacity="0.69" transform="rotate(32 548 427)"/>
<rect x="443" y="322" width="14" height="9" fill="#6d6f72" opacity="0.66" transform="rotate(-36 443 322)"/>
<rect x="399" y="330" width="29" height="7" fill="#6d6f72" opacity="0.62" transform="rotate(-36 399 330)"/>
<rect x="372" y="321" width="29" height="10" fill="#6d6f72" opacity="0.87" transform="rotate(32 372 321)"/>
<rect x="393" y="383" width="17" height="7" fill="#6d6f72" opacity="0.71" transform="rotate(32 393 383)"/>
<rect x="319" y="378" width="26" height="11" fill="#9a9c9f" opacity="0.62" transform="rotate(32 319 378)"/>
<rect x="434" y="383" width="28" height="7" fill="#5a5c5f" opacity="0.96" transform="rotate(-36 434 383)"/>
<rect x="243" y="396" width="26" height="11" fill="#6d6f72" opacity="0.61" transform="rotate(32 243 396)"/>
<rect x="341" y="507" width="28" height="8" fill="#5a5c5f" opacity="0.98" transform="rotate(32 341 507)"/>
<rect x="495" y="347" width="24" height="8" fill="#5a5c5f" opacity="0.60" transform="rotate(32 495 347)"/>
<rect x="338" y="402" width="20" height="12" fill="#85878a" opacity="0.92" transform="rotate(32 338 402)"/>
</g>
<polygon points="393,504 430,488 445,510 409,528" fill="#ecece9"/>
<polygon points="404,508 418,502 423,512 409,518" fill="#2a2a2c"/>
<polygon points="424,500 432,497 437,506 429,510" fill="#2a2a2c"/>
<polygon points="457,514 548,449 566,464 478,530" fill="#f1efea"/>
<polygon points="478,530 566,464 580,478 580,510 530,566 490,548" fill="#d9d6cf"/>
<polygon points="494,534 504,526 514,536 504,544" fill="#3c3c40"/>
<polygon points="514,519 524,511 534,521 524,529" fill="#3c3c40"/>
<polygon points="534,504 544,496 554,506 544,514" fill="#3c3c40"/>
<polygon points="554,489 564,481 574,491 564,499" fill="#3c3c40"/>
<polygon points="512,556 524,546 534,554 522,564" fill="#f4f2ee"/>
<polygon points="532,540 544,530 554,538 542,548" fill="#f4f2ee"/>
<polygon points="552,524 564,514 574,522 562,532" fill="#f4f2ee"/>
<polygon points="578,464 616,439 644,454 608,482" fill="#f1e6df"/>
<polygon points="592,464 616,448 630,456 606,472" fill="#cf987f"/>
<polygon points="608,482 644,454 645,468 609,497" fill="#c9c3bb"/>
<polygon points="578,464 608,482 609,497 579,478" fill="#e2dcd4"/>
<polygon points="335,583 358,564 406,597 390,617" fill="#ead959"/>
<polygon points="400,633 416,611 449,629 432,653" fill="#ead959"/>
<polygon points="345,580 360,568 400,596 390,608" fill="#f3e680"/>
<polygon points="47,440 100,387 115,375 155,345 475,110 479,70 529,94 521,173 476,194 473,219 434,228 427,213 427,190 410,198 410,262 400,271 392,270 205,398 224,446 222,462 210,470 175,442 145,432 52,473" fill="#17181a"/>
<polygon points="155,345 475,110 477,119 160,354" fill="#303235"/>
<polygon points="479,70 529,94 528,103 479,80" fill="#303235"/>
<polygon points="479,112 498,120 498,130 479,122" fill="#fff"/>
<polygon points="163,354.125 175,345.312 175,392.312 163,401.125" fill="#fff"/>
<polygon points="187,337.495 199,328.682 199,376.898 187,385.711" fill="#fff"/>
<polygon points="210,321.557 233,304.666 233,354.049 210,370.94" fill="#fff"/>
<polygon points="244,297.998 255,289.919 255,341.025 244,349.104" fill="#fff"/>
<polygon points="265,283.446 276,275.368 276,327.539 265,335.617" fill="#fff"/>
<polygon points="285,269.588 296,261.51 296,314.694 285,322.772" fill="#fff"/>
<polygon points="305,255.729 316,247.651 316,301.849 305,309.928" fill="#fff"/>
<polygon points="326,241.178 348,225.021 348,280.284 326,296.441" fill="#fff"/>
<polygon points="357,219.697 367,212.353 367,269.187 357,276.531" fill="#fff"/>
<polygon points="376,206.532 389,196.985 389,254.782 376,264.329" fill="#fff"/>
<polygon points="433,172 444,166 444,204 433,210" fill="#c9cacc"/>
<ellipse cx="198" cy="430" rx="9" ry="8" fill="#a4a6aa"/>
<ellipse cx="198" cy="430" rx="4" ry="3.5" fill="#e1e2e4"/>
<polygon points="298,318 384,272 402,288 316,335" fill="#a98e35"/>
<polygon points="306,318 382,278 392,286 316,327" fill="#d9c25a"/>
<polygon points="200,392 266,351 362,412 298,459" fill="#2458ab"/>
<polygon points="298,459 362,412 362,423 299,470" fill="#102e63"/>
<polygon points="200,392 298,459 299,470 201,402" fill="#173f86"/>
<polygon points="241,396 288,374 347,410 304,439" fill="#e4e9ef"/>
<polygon points="262,398 284,388 300,398 278,409" fill="#b7c3d6"/>
</g>
<g transform="translate(488.7 292.9) scale(0.16)">
<polygon points="200,392 402,272 686,424 684,442 448,633 432,653 400,633 390,617 335,584 357,564 368,547 330,559 295,533 320,508 306,501 212,448" fill="#0e0e0f"/>
<polygon points="200,388 402,268 684,420 446,622 416,606 360,560 372,540 330,552 299,530 322,506 308,496 212,442" fill="#27282b"/>
<polygon points="466,402 508,380 546,404 504,428" fill="#47484b"/>
<polygon points="474,402 508,385 538,404 504,422" fill="#303134"/>
<polygon points="470,332 500,317 524,332 494,348" fill="#0c0c0d"/>
<polygon points="566,398 604,378 652,408 614,430" fill="#151517"/>
<polygon points="500,340 528,326 534,332 506,346" fill="#b9bbbd" opacity="0.8"/>
<g clip-path="url(#pcbclip)">
<rect x="369" y="310" width="23" height="6" fill="#707275" opacity="0.75" transform="rotate(32 369 310)"/>
<rect x="255" y="427" width="11" height="9" fill="#6d6f72" opacity="0.64" transform="rotate(32 255 427)"/>
<rect x="413" y="533" width="12" height="7" fill="#707275" opacity="0.83" transform="rotate(32 413 533)"/>
<rect x="355" y="308" width="12" height="8" fill="#85878a" opacity="0.83" transform="rotate(32 355 308)"/>
<rect x="505" y="383" width="21" height="6" fill="#6d6f72" opacity="0.68" transform="rotate(-36 505 383)"/>
<rect x="523" y="401" width="16" height="10" fill="#9a9c9f" opacity="0.72" transform="rotate(32 523 401)"/>
<rect x="335" y="450" width="21" height="11" fill="#9a9c9f" opacity="0.84" transform="rotate(32 335 450)"/>
<rect x="261" y="429" width="13" height="8" fill="#9a9c9f" opacity="0.62" transform="rotate(32 261 429)"/>
<rect x="517" y="512" width="21" height="11" fill="#5a5c5f" opacity="0.88" transform="rotate(32 517 512)"/>
<rect x="486" y="451" width="19" height="11" fill="#5a5c5f" opacity="0.88" transform="rotate(32 486 451)"/>
<rect x="363" y="451" width="24" height="9" fill="#9a9c9f" opacity="0.74" transform="rotate(-36 363 451)"/>
<rect x="493" y="423" width="14" height="8" fill="#85878a" opacity="0.76" transform="rotate(32 493 423)"/>
<rect x="423" y="441" width="28" height="11" fill="#707275" opacity="0.88" transform="rotate(32 423 441)"/>
<rect x="394" y="336" width="12" height="7" fill="#85878a" opacity="0.79" transform="rotate(32 394 336)"/>
<rect x="483" y="347" width="10" height="9" fill="#5a5c5f" opacity="0.83" transform="rotate(-36 483 347)"/>
<rect x="452" y="464" width="24" height="6" fill="#707275" opacity="0.76" transform="rotate(32 452 464)"/>
<rect x="399" y="419" width="18" height="7" fill="#85878a" opacity="0.66" transform="rotate(32 399 419)"/>
<rect x="274" y="380" width="11" height="11" fill="#707275" opacity="0.66" transform="rotate(32 274 380)"/>
<rect x="338" y="375" width="17" height="7" fill="#9a9c9f" opacity="0.79" transform="rotate(32 338 375)"/>
<rect x="364" y="308" width="25" height="10" fill="#9a9c9f" opacity="0.66" transform="rotate(-36 364 308)"/>
<rect x="457" y="308" width="21" height="6" fill="#707275" opacity="0.99" transform="rotate(32 457 308)"/>
<rect x="342" y="381" width="13" height="11" fill="#707275" opacity="0.91" transform="rotate(-36 342 381)"/>
<rect x="372" y="334" width="26" height="12" fill="#85878a" opacity="0.93" transform="rotate(32 372 334)"/>
<rect x="453" y="377" width="11" height="6" fill="#5a5c5f" opacity="0.70" transform="rotate(32 453 377)"/>
<rect x="387" y="333" width="15" height="7" fill="#85878a" opacity="0.85" transform="rotate(32 387 333)"/>
<rect x="436" y="475" width="26" height="7" fill="#6d6f72" opacity="0.91" transform="rotate(32 436 475)"/>
<rect x="553" y="418" width="14" height="11" fill="#5a5c5f" opacity="0.92" transform="rotate(32 553 418)"/>
<rect x="381" y="441" width="13" height="6" fill="#6d6f72" opacity="0.90" transform="rotate(-36 381 441)"/>
<rect x="445" y="512" width="17" height="9" fill="#85878a" opacity="0.96" transform="rotate(32 445 512)"/>
<rect x="382" y="411" width="22" height="11" fill="#9a9c9f" opacity="0.65" transform="rotate(-36 382 411)"/>
<rect x="295" y="428" width="27" height="11" fill="#707275" opacity="0.91" transform="rotate(32 295 428)"/>
<rect x="458" y="419" width="26" height="11" fill="#6d6f72" opacity="0.68" transform="rotate(32 458 419)"/>
<rect x="491" y="326" width="16" height="9" fill="#9a9c9f" opacity="0.98" transform="rotate(-36 491 326)"/>
<rect x="282" y="406" width="11" height="7" fill="#6d6f72" opacity="0.87" transform="rotate(32 282 406)"/>
<rect x="401" y="421" width="30" height="11" fill="#85878a" opacity="0.77" transform="rotate(-36 401 421)"/>
<rect x="452" y="372" width="14" height="8" fill="#5a5c5f" opacity="0.74" transform="rotate(32 452 372)"/>
<rect x="427" y="492" width="18" height="9" fill="#5a5c5f" opacity="0.98" transform="rotate(-36 427 492)"/>
<rect x="461" y="430" width="20" height="8" fill="#5a5c5f" opacity="0.92" transform="rotate(32 461 430)"/>
<rect x="492" y="333" width="15" height="7" fill="#6d6f72" opacity="1.00" transform="rotate(32 492 333)"/>
<rect x="500" y="435" width="14" height="9" fill="#85878a" opacity="0.74" transform="rotate(32 500 435)"/>
<rect x="467" y="323" width="19" height="12" fill="#6d6f72" opacity="0.93" transform="rotate(-36 467 323)"/>
<rect x="416" y="423" width="27" height="8" fill="#707275" opacity="0.88" transform="rotate(32 416 423)"/>
<rect x="503" y="394" width="17" height="6" fill="#85878a" opacity="0.63" transform="rotate(32 503 394)"/>
<rect x="518" y="353" width="15" height="8" fill="#9a9c9f" opacity="0.66" transform="rotate(32 518 353)"/>
<rect x="422" y="347" width="29" height="12" fill="#707275" opacity="0.70" transform="rotate(32 422 347)"/>
<rect x="394" y="417" width="20" height="7" fill="#707275" opacity="0.64" transform="rotate(32 394 417)"/>
<rect x="482" y="390" width="16" height="10" fill="#6d6f72" opacity="0.98" transform="rotate(-36 482 390)"/>
<rect x="487" y="512" width="24" height="9" fill="#5a5c5f" opacity="0.85" transform="rotate(-36 487 512)"/>
<rect x="537" y="429" width="19" height="10" fill="#707275" opacity="0.96" transform="rotate(32 537 429)"/>
<rect x="554" y="448" width="26" height="6" fill="#707275" opacity="0.87" transform="rotate(-36 554 448)"/>
<rect x="385" y="295" width="27" height="9" fill="#6d6f72" opacity="0.81" transform="rotate(-36 385 295)"/>
<rect x="335" y="347" width="19" height="6" fill="#707275" opacity="0.64" transform="rotate(-36 335 347)"/>
<rect x="456" y="506" width="19" height="11" fill="#5a5c5f" opacity="0.89" transform="rotate(32 456 506)"/>
<rect x="650" y="423" width="18" height="9" fill="#5a5c5f" opacity="0.85" transform="rotate(32 650 423)"/>
<rect x="293" y="344" width="25" height="8" fill="#707275" opacity="0.60" transform="rotate(32 293 344)"/>
<rect x="519" y="488" width="24" height="8" fill="#707275" opacity="0.79" transform="rotate(32 519 488)"/>
<rect x="431" y="299" width="28" height="7" fill="#6d6f72" opacity="0.61" transform="rotate(32 431 299)"/>
<rect x="427" y="531" width="29" height="9" fill="#5a5c5f" opacity="0.68" transform="rotate(32 427 531)"/>
<rect x="455" y="574" width="13" height="11" fill="#707275" opacity="0.95" transform="rotate(32 455 574)"/>
<rect x="616" y="420" width="10" height="6" fill="#9a9c9f" opacity="0.78" transform="rotate(-36 616 420)"/>
<rect x="360" y="306" width="17" height="8" fill="#5a5c5f" opacity="0.73" transform="rotate(32 360 306)"/>
<rect x="375" y="391" width="29" height="7" fill="#6d6f72" opacity="0.72" transform="rotate(-36 375 391)"/>
<rect x="390" y="390" width="30" height="10" fill="#5a5c5f" opacity="0.90" transform="rotate(32 390 390)"/>
<rect x="366" y="515" width="26" height="9" fill="#6d6f72" opacity="0.76" transform="rotate(-36 366 515)"/>
<rect x="607" y="443" width="14" height="6" fill="#9a9c9f" opacity="0.85" transform="rotate(32 607 443)"/>
<rect x="439" y="561" width="21" height="7" fill="#9a9c9f" opacity="0.71" transform="rotate(32 439 561)"/>
<rect x="340" y="504" width="23" height="8" fill="#85878a" opacity="0.79" transform="rotate(32 340 504)"/>
<rect x="445" y="528" width="21" height="9" fill="#5a5c5f" opacity="0.77" transform="rotate(32 445 528)"/>
<rect x="466" y="341" width="13" height="9" fill="#5a5c5f" opacity="0.75" transform="rotate(32 466 341)"/>
<rect x="395" y="506" width="14" height="8" fill="#6d6f72" opacity="0.71" transform="rotate(32 395 506)"/>
<rect x="446" y="468" width="27" height="7" fill="#5a5c5f" opacity="0.75" transform="rotate(32 446 468)"/>
<rect x="508" y="403" width="16" height="11" fill="#6d6f72" opacity="0.61" transform="rotate(32 508 403)"/>
<rect x="434" y="454" width="10" height="8" fill="#707275" opacity="0.99" transform="rotate(32 434 454)"/>
<rect x="296" y="432" width="24" height="12" fill="#9a9c9f" opacity="0.82" transform="rotate(32 296 432)"/>
<rect x="508" y="360" width="13" height="8" fill="#9a9c9f" opacity="0.91" transform="rotate(-36 508 360)"/>
<rect x="273" y="359" width="29" height="7" fill="#5a5c5f" opacity="0.92" transform="rotate(32 273 359)"/>
<rect x="230" y="437" width="30" height="8" fill="#5a5c5f" opacity="0.94" transform="rotate(-36 230 437)"/>
<rect x="334" y="434" width="21" height="6" fill="#9a9c9f" opacity="0.86" transform="rotate(-36 334 434)"/>
<rect x="412" y="382" width="20" height="10" fill="#9a9c9f" opacity="0.87" transform="rotate(32 412 382)"/>
<rect x="548" y="427" width="14" height="12" fill="#5a5c5f" opacity="0.69" transform="rotate(32 548 427)"/>
<rect x="443" y="322" width="14" height="9" fill="#6d6f72" opacity="0.66" transform="rotate(-36 443 322)"/>
<rect x="399" y="330" width="29" height="7" fill="#6d6f72" opacity="0.62" transform="rotate(-36 399 330)"/>
<rect x="372" y="321" width="29" height="10" fill="#6d6f72" opacity="0.87" transform="rotate(32 372 321)"/>
<rect x="393" y="383" width="17" height="7" fill="#6d6f72" opacity="0.71" transform="rotate(32 393 383)"/>
<rect x="319" y="378" width="26" height="11" fill="#9a9c9f" opacity="0.62" transform="rotate(32 319 378)"/>
<rect x="434" y="383" width="28" height="7" fill="#5a5c5f" opacity="0.96" transform="rotate(-36 434 383)"/>
<rect x="243" y="396" width="26" height="11" fill="#6d6f72" opacity="0.61" transform="rotate(32 243 396)"/>
<rect x="341" y="507" width="28" height="8" fill="#5a5c5f" opacity="0.98" transform="rotate(32 341 507)"/>
<rect x="495" y="347" width="24" height="8" fill="#5a5c5f" opacity="0.60" transform="rotate(32 495 347)"/>
<rect x="338" y="402" width="20" height="12" fill="#85878a" opacity="0.92" transform="rotate(32 338 402)"/>
</g>
<polygon points="393,504 430,488 445,510 409,528" fill="#ecece9"/>
<polygon points="404,508 418,502 423,512 409,518" fill="#2a2a2c"/>
<polygon points="424,500 432,497 437,506 429,510" fill="#2a2a2c"/>
<polygon points="457,514 548,449 566,464 478,530" fill="#f1efea"/>
<polygon points="478,530 566,464 580,478 580,510 530,566 490,548" fill="#d9d6cf"/>
<polygon points="494,534 504,526 514,536 504,544" fill="#3c3c40"/>
<polygon points="514,519 524,511 534,521 524,529" fill="#3c3c40"/>
<polygon points="534,504 544,496 554,506 544,514" fill="#3c3c40"/>
<polygon points="554,489 564,481 574,491 564,499" fill="#3c3c40"/>
<polygon points="512,556 524,546 534,554 522,564" fill="#f4f2ee"/>
<polygon points="532,540 544,530 554,538 542,548" fill="#f4f2ee"/>
<polygon points="552,524 564,514 574,522 562,532" fill="#f4f2ee"/>
<polygon points="578,464 616,439 644,454 608,482" fill="#f1e6df"/>
<polygon points="592,464 616,448 630,456 606,472" fill="#cf987f"/>
<polygon points="608,482 644,454 645,468 609,497" fill="#c9c3bb"/>
<polygon points="578,464 608,482 609,497 579,478" fill="#e2dcd4"/>
<polygon points="335,583 358,564 406,597 390,617" fill="#ead959"/>
<polygon points="400,633 416,611 449,629 432,653" fill="#ead959"/>
<polygon points="345,580 360,568 400,596 390,608" fill="#f3e680"/>
<polygon points="47,440 100,387 115,375 155,345 475,110 479,70 529,94 521,173 476,194 473,219 434,228 427,213 427,190 410,198 410,262 400,271 392,270 205,398 224,446 222,462 210,470 175,442 145,432 52,473" fill="#17181a"/>
<polygon points="155,345 475,110 477,119 160,354" fill="#303235"/>
<polygon points="479,70 529,94 528,103 479,80" fill="#303235"/>
<polygon points="479,112 498,120 498,130 479,122" fill="#fff"/>
<polygon points="163,354.125 175,345.312 175,392.312 163,401.125" fill="#fff"/>
<polygon points="187,337.495 199,328.682 199,376.898 187,385.711" fill="#fff"/>
<polygon points="210,321.557 233,304.666 233,354.049 210,370.94" fill="#fff"/>
<polygon points="244,297.998 255,289.919 255,341.025 244,349.104" fill="#fff"/>
<polygon points="265,283.446 276,275.368 276,327.539 265,335.617" fill="#fff"/>
<polygon points="285,269.588 296,261.51 296,314.694 285,322.772" fill="#fff"/>
<polygon points="305,255.729 316,247.651 316,301.849 305,309.928" fill="#fff"/>
<polygon points="326,241.178 348,225.021 348,280.284 326,296.441" fill="#fff"/>
<polygon points="357,219.697 367,212.353 367,269.187 357,276.531" fill="#fff"/>
<polygon points="376,206.532 389,196.985 389,254.782 376,264.329" fill="#fff"/>
<polygon points="433,172 444,166 444,204 433,210" fill="#c9cacc"/>
<ellipse cx="198" cy="430" rx="9" ry="8" fill="#a4a6aa"/>
<ellipse cx="198" cy="430" rx="4" ry="3.5" fill="#e1e2e4"/>
<polygon points="298,318 384,272 402,288 316,335" fill="#a98e35"/>
<polygon points="306,318 382,278 392,286 316,327" fill="#d9c25a"/>
<polygon points="200,392 266,351 362,412 298,459" fill="#2458ab"/>
<polygon points="298,459 362,412 362,423 299,470" fill="#102e63"/>
<polygon points="200,392 298,459 299,470 201,402" fill="#173f86"/>
<polygon points="241,396 288,374 347,410 304,439" fill="#e4e9ef"/>
<polygon points="262,398 284,388 300,398 278,409" fill="#b7c3d6"/>
</g>
<g transform="translate(192.5 458.9)">
<rect x="-1" y="11.5" width="1.6" height="4.5" rx="0.6" fill="#303036"/>
<rect x="-1" y="20.5" width="1.6" height="17" rx="0.6" fill="#303036"/>
<rect x="48.2" y="19.5" width="1.6" height="10" rx="0.6" fill="#303036"/>
<rect x="0" y="0" width="48.8" height="100.4" rx="6.2" fill="#0b0c0f"/>
<rect x="1.7" y="1.8" width="45.4" height="97.1" rx="4.6" fill="url(#scr)"/>
<path d="M1.7 7.2 V6.4 a4.6 4.6 0 0 1 4.6 -4.6 H42.5 a4.6 4.6 0 0 1 4.6 4.6 V7.2 Z" fill="#0b0c0f"/>
<rect x="4.7" y="3.4" width="7" height="1.1" fill="#8b8f98" opacity="0.7"/>
<rect x="35.1" y="3.4" width="9" height="1.1" fill="#8b8f98" opacity="0.7"/>
<rect x="1.7" y="7.2" width="45.4" height="43.4" fill="url(#pan)"/>
<rect x="16.533" y="14.5" width="0.6" height="36" fill="#2a58a6" opacity="0.9"/>
<rect x="31.667" y="14.5" width="0.6" height="36" fill="#2a58a6" opacity="0.9"/>
<path d="M1.7 86 H47.1 V94.3 a4.6 4.6 0 0 1 -4.6 4.6 H6.3 a4.6 4.6 0 0 1 -4.6 -4.6 Z" fill="url(#nav)"/>
<circle cx="6.2" cy="93.8" r="1.3" fill="#76a8ec"/>
<circle cx="17.8" cy="93.8" r="1.3" fill="#76a8ec"/>
<circle cx="29.6" cy="93.8" r="1.3" fill="#76a8ec"/>
<circle cx="41.6" cy="93.8" r="1.3" fill="#76a8ec"/>
<circle cx="13.2" cy="76.5" r="6.4" fill="none" stroke="#3d78cf" stroke-width="0.5" opacity="0.6"/>
<circle cx="34.6" cy="76.5" r="6.4" fill="none" stroke="#3d78cf" stroke-width="0.5" opacity="0.6"/>
<path d="M7.6 70 A8 8 0 0 0 8.2 82.6" fill="none" stroke="#d6e4fa" stroke-width="1.4" stroke-dasharray="0.8 0.5"/>
<path d="M28.5 83.6 L32 80" stroke="#d6e4fa" stroke-width="0.8"/>
<text x="24.4" y="11.4" font-size="2.15" fill="#e6edf9" text-anchor="middle" font-weight="bold">Computer Smart Switch</text>
<text x="3.2" y="11.3" font-size="2.4" fill="#dfe8f8">&#8249;</text>
<text x="44" y="11.3" font-size="2.4" fill="#dfe8f8">&#8942;</text>
<text x="9.2" y="32.8" font-size="2" fill="#c3d3ee" text-anchor="middle">Reboot</text>
<text x="24.4" y="32.8" font-size="2" fill="#c3d3ee" text-anchor="middle">Boot</text>
<text x="39.3" y="32.8" font-size="2" fill="#c3d3ee" text-anchor="middle">Force shutdown</text>
<text x="24.4" y="54.3" font-size="1.6" fill="#7ea2dc" text-anchor="middle">Last 7 days boot / shutdown records</text>
<text x="24.4" y="63.2" font-size="2.45" fill="#ffffff" text-anchor="middle" font-weight="bold">The computer is Shut down</text>
<text x="13.8" y="77.8" font-size="3.9" fill="#e3ebf8" text-anchor="middle" font-weight="bold">31.</text>
<text x="35.8" y="77.8" font-size="3.9" fill="#e3ebf8" text-anchor="middle" font-weight="bold">1.</text>
</g>
<g transform="translate(451.6 458.9)">
<rect x="-1" y="11.5" width="1.6" height="4.5" rx="0.6" fill="#303036"/>
<rect x="-1" y="20.5" width="1.6" height="17" rx="0.6" fill="#303036"/>
<rect x="48.2" y="19.5" width="1.6" height="10" rx="0.6" fill="#303036"/>
<rect x="0" y="0" width="48.8" height="100.4" rx="6.2" fill="#0b0c0f"/>
<rect x="1.7" y="1.8" width="45.4" height="97.1" rx="4.6" fill="url(#scr)"/>
<path d="M1.7 7.2 V6.4 a4.6 4.6 0 0 1 4.6 -4.6 H42.5 a4.6 4.6 0 0 1 4.6 4.6 V7.2 Z" fill="#0b0c0f"/>
<rect x="4.7" y="3.4" width="7" height="1.1" fill="#8b8f98" opacity="0.7"/>
<rect x="35.1" y="3.4" width="9" height="1.1" fill="#8b8f98" opacity="0.7"/>
<rect x="1.7" y="7.2" width="45.4" height="43.4" fill="url(#pan)"/>
<rect x="16.533" y="14.5" width="0.6" height="36" fill="#2a58a6" opacity="0.9"/>
<rect x="31.667" y="14.5" width="0.6" height="36" fill="#2a58a6" opacity="0.9"/>
<path d="M1.7 86 H47.1 V94.3 a4.6 4.6 0 0 1 -4.6 4.6 H6.3 a4.6 4.6 0 0 1 -4.6 -4.6 Z" fill="url(#nav)"/>
<circle cx="6.2" cy="93.8" r="1.3" fill="#76a8ec"/>
<circle cx="17.8" cy="93.8" r="1.3" fill="#76a8ec"/>
<circle cx="29.6" cy="93.8" r="1.3" fill="#76a8ec"/>
<circle cx="41.6" cy="93.8" r="1.3" fill="#76a8ec"/>
<circle cx="13.2" cy="76.5" r="6.4" fill="none" stroke="#3d78cf" stroke-width="0.5" opacity="0.6"/>
<circle cx="34.6" cy="76.5" r="6.4" fill="none" stroke="#3d78cf" stroke-width="0.5" opacity="0.6"/>
<path d="M7.6 70 A8 8 0 0 0 8.2 82.6" fill="none" stroke="#d6e4fa" stroke-width="1.4" stroke-dasharray="0.8 0.5"/>
<path d="M28.5 83.6 L32 80" stroke="#d6e4fa" stroke-width="0.8"/>
<text x="24.4" y="11.4" font-size="2.15" fill="#e6edf9" text-anchor="middle" font-weight="bold">Computer Smart Switch</text>
<text x="3.2" y="11.3" font-size="2.4" fill="#dfe8f8">&#8249;</text>
<text x="44" y="11.3" font-size="2.4" fill="#dfe8f8">&#8942;</text>
<text x="9.2" y="32.8" font-size="2" fill="#c3d3ee" text-anchor="middle">Reboot</text>
<text x="24.4" y="32.8" font-size="2" fill="#c3d3ee" text-anchor="middle">Boot</text>
<text x="39.3" y="32.8" font-size="2" fill="#c3d3ee" text-anchor="middle">Force shutdown</text>
<text x="24.4" y="54.3" font-size="1.6" fill="#7ea2dc" text-anchor="middle">Last 7 days boot / shutdown records</text>
<text x="24.4" y="63.2" font-size="2.45" fill="#ffffff" text-anchor="middle" font-weight="bold">The computer is Shut down</text>
<text x="13.8" y="77.8" font-size="3.9" fill="#e3ebf8" text-anchor="middle" font-weight="bold">31.</text>
<text x="35.8" y="77.8" font-size="3.9" fill="#e3ebf8" text-anchor="middle" font-weight="bold">1.</text>
</g>
<g transform="translate(532.3 458.9)">
<rect x="-1" y="11.5" width="1.6" height="4.5" rx="0.6" fill="#303036"/>
<rect x="-1" y="20.5" width="1.6" height="17" rx="0.6" fill="#303036"/>
<rect x="48.2" y="19.5" width="1.6" height="10" rx="0.6" fill="#303036"/>
<rect x="0" y="0" width="48.8" height="100.4" rx="6.2" fill="#0b0c0f"/>
<rect x="1.7" y="1.8" width="45.4" height="97.1" rx="4.6" fill="url(#scr)"/>
<path d="M1.7 7.2 V6.4 a4.6 4.6 0 0 1 4.6 -4.6 H42.5 a4.6 4.6 0 0 1 4.6 4.6 V7.2 Z" fill="#0b0c0f"/>
<rect x="4.7" y="3.4" width="7" height="1.1" fill="#8b8f98" opacity="0.7"/>
<rect x="35.1" y="3.4" width="9" height="1.1" fill="#8b8f98" opacity="0.7"/>
<rect x="1.7" y="7.2" width="45.4" height="43.4" fill="url(#pan)"/>
<rect x="16.533" y="14.5" width="0.6" height="36" fill="#2a58a6" opacity="0.9"/>
<rect x="31.667" y="14.5" width="0.6" height="36" fill="#2a58a6" opacity="0.9"/>
<path d="M1.7 86 H47.1 V94.3 a4.6 4.6 0 0 1 -4.6 4.6 H6.3 a4.6 4.6 0 0 1 -4.6 -4.6 Z" fill="url(#nav)"/>
<circle cx="6.2" cy="93.8" r="1.3" fill="#76a8ec"/>
<circle cx="17.8" cy="93.8" r="1.3" fill="#76a8ec"/>
<circle cx="29.6" cy="93.8" r="1.3" fill="#76a8ec"/>
<circle cx="41.6" cy="93.8" r="1.3" fill="#76a8ec"/>
<circle cx="13.2" cy="76.5" r="6.4" fill="none" stroke="#3d78cf" stroke-width="0.5" opacity="0.6"/>
<circle cx="34.6" cy="76.5" r="6.4" fill="none" stroke="#3d78cf" stroke-width="0.5" opacity="0.6"/>
<path d="M7.6 70 A8 8 0 0 0 8.2 82.6" fill="none" stroke="#d6e4fa" stroke-width="1.4" stroke-dasharray="0.8 0.5"/>
<path d="M28.5 83.6 L32 80" stroke="#d6e4fa" stroke-width="0.8"/>
<text x="24.4" y="11.4" font-size="2.15" fill="#e6edf9" text-anchor="middle" font-weight="bold">Computer Smart Switch</text>
<text x="3.2" y="11.3" font-size="2.4" fill="#dfe8f8">&#8249;</text>
<text x="44" y="11.3" font-size="2.4" fill="#dfe8f8">&#8942;</text>
<text x="9.2" y="32.8" font-size="2" fill="#c3d3ee" text-anchor="middle">Reboot</text>
<text x="24.4" y="32.8" font-size="2" fill="#c3d3ee" text-anchor="middle">Boot</text>
<text x="39.3" y="32.8" font-size="2" fill="#c3d3ee" text-anchor="middle">Force shutdown</text>
<text x="24.4" y="54.3" font-size="1.6" fill="#7ea2dc" text-anchor="middle">Last 7 days boot / shutdown records</text>
<text x="24.4" y="63.2" font-size="2.45" fill="#ffffff" text-anchor="middle" font-weight="bold">The computer is Shut down</text>
<text x="13.8" y="77.8" font-size="3.9" fill="#e3ebf8" text-anchor="middle" font-weight="bold">31.</text>
<text x="35.8" y="77.8" font-size="3.9" fill="#e3ebf8" text-anchor="middle" font-weight="bold">1.</text>
</g>
<g transform="translate(604.5 458.9)">
<rect x="-1" y="11.5" width="1.6" height="4.5" rx="0.6" fill="#303036"/>
<rect x="-1" y="20.5" width="1.6" height="17" rx="0.6" fill="#303036"/>
<rect x="48.2" y="19.5" width="1.6" height="10" rx="0.6" fill="#303036"/>
<rect x="0" y="0" width="48.8" height="100.4" rx="6.2" fill="#0b0c0f"/>
<rect x="1.7" y="1.8" width="45.4" height="97.1" rx="4.6" fill="url(#scr)"/>
<path d="M1.7 7.2 V6.4 a4.6 4.6 0 0 1 4.6 -4.6 H42.5 a4.6 4.6 0 0 1 4.6 4.6 V7.2 Z" fill="#0b0c0f"/>
<rect x="4.7" y="3.4" width="7" height="1.1" fill="#8b8f98" opacity="0.7"/>
<rect x="35.1" y="3.4" width="9" height="1.1" fill="#8b8f98" opacity="0.7"/>
<rect x="1.7" y="7.2" width="45.4" height="43.4" fill="url(#pan)"/>
<rect x="16.533" y="14.5" width="0.6" height="36" fill="#2a58a6" opacity="0.9"/>
<rect x="31.667" y="14.5" width="0.6" height="36" fill="#2a58a6" opacity="0.9"/>
<path d="M1.7 86 H47.1 V94.3 a4.6 4.6 0 0 1 -4.6 4.6 H6.3 a4.6 4.6 0 0 1 -4.6 -4.6 Z" fill="url(#nav)"/>
<circle cx="6.2" cy="93.8" r="1.3" fill="#76a8ec"/>
<circle cx="17.8" cy="93.8" r="1.3" fill="#76a8ec"/>
<circle cx="29.6" cy="93.8" r="1.3" fill="#76a8ec"/>
<circle cx="41.6" cy="93.8" r="1.3" fill="#76a8ec"/>
<circle cx="13.2" cy="76.5" r="6.4" fill="none" stroke="#3d78cf" stroke-width="0.5" opacity="0.6"/>
<circle cx="34.6" cy="76.5" r="6.4" fill="none" stroke="#3d78cf" stroke-width="0.5" opacity="0.6"/>
<path d="M7.6 70 A8 8 0 0 0 8.2 82.6" fill="none" stroke="#d6e4fa" stroke-width="1.4" stroke-dasharray="0.8 0.5"/>
<path d="M28.5 83.6 L32 80" stroke="#d6e4fa" stroke-width="0.8"/>
<text x="24.4" y="11.4" font-size="2.15" fill="#e6edf9" text-anchor="middle" font-weight="bold">Computer Smart Switch</text>
<text x="3.2" y="11.3" font-size="2.4" fill="#dfe8f8">&#8249;</text>
<text x="44" y="11.3" font-size="2.4" fill="#dfe8f8">&#8942;</text>
<text x="9.2" y="32.8" font-size="2" fill="#c3d3ee" text-anchor="middle">Reboot</text>
<text x="24.4" y="32.8" font-size="2" fill="#c3d3ee" text-anchor="middle">Boot</text>
<text x="39.3" y="32.8" font-size="2" fill="#c3d3ee" text-anchor="middle">Force shutdown</text>
<text x="24.4" y="54.3" font-size="1.6" fill="#7ea2dc" text-anchor="middle">Last 7 days boot / shutdown records</text>
<text x="24.4" y="63.2" font-size="2.45" fill="#ffffff" text-anchor="middle" font-weight="bold">The computer is Shut down</text>
<text x="13.8" y="77.8" font-size="3.9" fill="#e3ebf8" text-anchor="middle" font-weight="bold">31.</text>
<text x="35.8" y="77.8" font-size="3.9" fill="#e3ebf8" text-anchor="middle" font-weight="bold">1.</text>
</g>
</svg>
<div class="t" id="t0"><span style="margin-left:-2.28px;letter-spacing:-1.42px">Many</span> <span style="margin-left:-0.84px;letter-spacing:-0.44px">to</span> <span style="margin-left:-4.77px;letter-spacing:-1.32px">many</span> <span style="margin-left:-1.84px;letter-spacing:-1.23px">cloud</span> <span style="margin-left:-3.08px;letter-spacing:-1.90px">technology</span></div>
<div class="t" id="t1"><span style="margin-left:-0.41px;letter-spacing:0.08px">The</span> <span style="margin-left:0.30px;letter-spacing:0.17px">same</span> <span style="margin-left:-0.45px;letter-spacing:0.36px">user</span> <span style="margin-left:0.28px;letter-spacing:1.01px">can</span> <span style="margin-left:-1.68px;letter-spacing:0.65px">bind</span> <span style="margin-left:-1.35px;letter-spacing:1.61px">multiple</span> <span style="margin-left:-1.43px;letter-spacing:0.29px">cards,</span> <span style="margin-left:-0.99px;letter-spacing:1.39px">and</span> <span style="margin-left:-1.64px;letter-spacing:0.56px">can</span> <span style="margin-left:-0.57px;letter-spacing:0.05px">share</span> <span style="margin-left:0.57px;letter-spacing:0.92px">their</span> <span style="margin-left:-0.30px;letter-spacing:0.08px">cards</span> <span style="margin-left:0.72px;letter-spacing:2.18px">to</span> <span style="margin-left:-1.33px;letter-spacing:1.27px">other</span> <span style="margin-left:-1.04px;letter-spacing:0.22px">users,</span></div>
<div class="t" id="t2"><span style="margin-left:-0.77px;letter-spacing:1.14px">and</span> <span style="margin-left:-1.38px;letter-spacing:0.66px">can</span> <span style="margin-left:-0.67px;letter-spacing:0.27px">share</span> <span style="margin-left:0.37px;letter-spacing:1.47px">them</span> <span style="margin-left:-1.24px;letter-spacing:2.18px">to</span> <span style="margin-left:-1.08px;letter-spacing:1.14px">multiple</span> <span style="margin-left:-1.39px;letter-spacing:-0.24px">users</span> <span style="margin-left:1.04px;letter-spacing:1.66px">for</span> <span style="margin-left:-1.05px;letter-spacing:1.08px">control,</span> <span style="margin-left:-1.02px;letter-spacing:0.86px">which</span> <span style="margin-left:-1.57px;letter-spacing:-0.17px">is</span> <span style="margin-left:0.95px;letter-spacing:0.60px">flexible</span> <span style="margin-left:-0.45px;letter-spacing:1.29px">and</span> <span style="margin-left:-1.54px;letter-spacing:0.89px">convenient.</span></div>
<div class="t" id="t3"><span style="margin-left:-0.43px">A</span> <span style="margin-left:-0.23px;letter-spacing:0.53px">mobile</span> <span style="margin-left:-1.48px;letter-spacing:0.03px">phone</span> <span style="margin-left:-0.31px;letter-spacing:-0.85px">APP</span></div>
<div class="t" id="t4"><span style="margin-left:-1.29px;letter-spacing:0.61px">Multiple</span> <span style="margin-left:-0.40px;letter-spacing:-0.27px">devices</span> <span style="margin-left:0.62px;letter-spacing:-0.94px">can</span> <span style="margin-left:0.50px;letter-spacing:0.45px">be</span> <span style="margin-left:-0.59px;letter-spacing:0.72px">bound</span></div>
<div class="t" id="t5"><span style="margin-left:-0.70px;letter-spacing:0.30px">One</span> <span style="margin-left:-0.44px;letter-spacing:-0.03px">device</span></div>
<div class="t" id="t6"><span style="margin-left:-0.79px;letter-spacing:-0.73px">Can</span> <span style="margin-left:0.29px;letter-spacing:-1.03px">be</span> <span style="margin-left:0.39px;letter-spacing:1.10px">bound</span> <span style="margin-left:-1.54px;letter-spacing:-0.34px">by</span> <span style="margin-left:0.85px;letter-spacing:0.54px">multiple</span> <span style="margin-left:-0.68px;letter-spacing:0.66px">mobile</span> <span style="margin-left:-0.79px;letter-spacing:-0.25px">phones</span></div>
</body>
</html>
